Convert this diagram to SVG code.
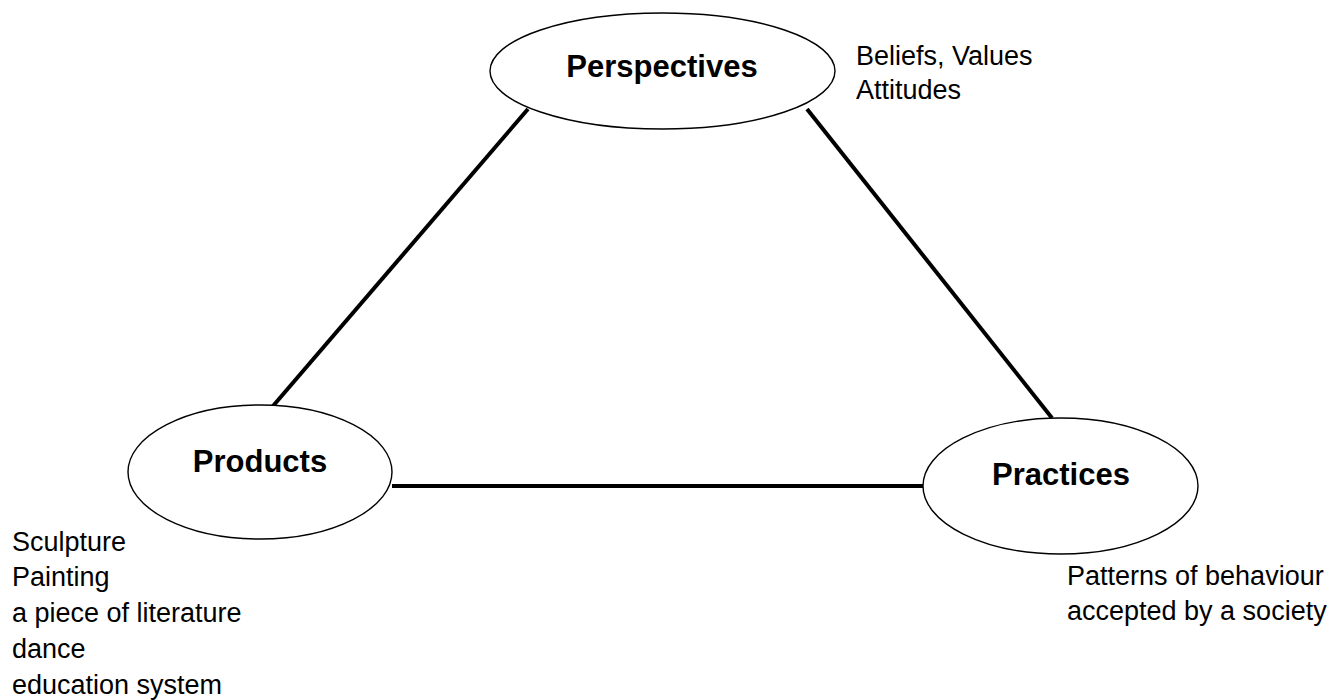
<svg xmlns="http://www.w3.org/2000/svg" width="1328" height="700" viewBox="0 0 1328 700">
  <style>
    .node ellipse { fill: #ffffff; stroke: #000000; stroke-width: 1.4; }
    .title { font-family: "Liberation Sans", Arial, sans-serif; font-weight: bold; font-size: 31px; fill: #000000; text-anchor: middle; }
    .note { font-family: "Liberation Sans", Arial, sans-serif; font-size: 27px; fill: #000000; }
    #connectors line { stroke: #000000; stroke-width: 4; stroke-linecap: butt; }
  </style>
  <rect width="1328" height="700" fill="#ffffff"/>

  <!-- edges of the triangle -->
  <g id="connectors">
    <line x1="528" y1="109" x2="273" y2="406"/>
    <line x1="807" y1="109" x2="1052" y2="418"/>
    <line x1="392" y1="486" x2="923" y2="486"/>
  </g>

  <g id="perspectives" class="node">
    <ellipse cx="662.5" cy="71" rx="172.5" ry="58"/>
    <text class="title" x="662" y="77">Perspectives</text>
  </g>

  <g id="products" class="node">
    <ellipse cx="260" cy="472" rx="132" ry="67"/>
    <text class="title" x="260" y="472">Products</text>
  </g>

  <g id="practices" class="node">
    <ellipse cx="1060.5" cy="486" rx="137.5" ry="68"/>
    <text class="title" x="1061" y="485">Practices</text>
  </g>

  <!-- side notes -->
  <g id="perspectives-notes" class="note">
    <text x="856" y="65">Beliefs, Values</text>
    <text x="856" y="99">Attitudes</text>
  </g>

  <g id="products-notes" class="note">
    <text x="12" y="551">Sculpture</text>
    <text x="12" y="586">Painting</text>
    <text x="12" y="622">a piece of literature</text>
    <text x="12" y="658">dance</text>
    <text x="12" y="694">education system</text>
  </g>

  <g id="practices-notes" class="note">
    <text x="1067" y="585">Patterns of behaviour</text>
    <text x="1067" y="620">accepted by a society</text>
  </g>
</svg>
